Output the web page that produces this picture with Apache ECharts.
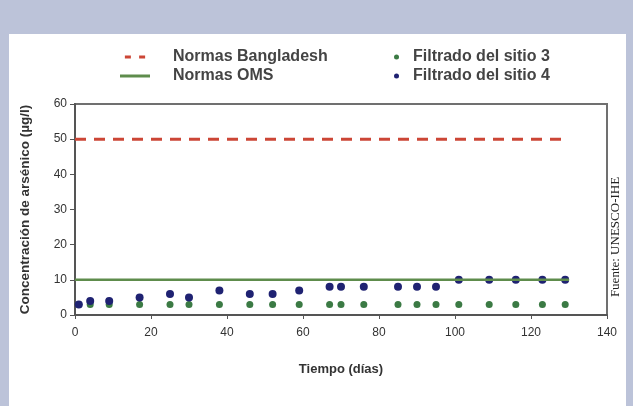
<!DOCTYPE html>
<html><head><meta charset="utf-8">
<script src="https://cdn.jsdelivr.net/npm/echarts@6/dist/echarts.min.js"></script>
<style>html,body{margin:0;padding:0;background:#bcc3d9;}#c{width:633px;height:406px;}</style>
</head><body><div id="c"></div>
<script>
// Data
const days = [1, 4, 9, 17, 25, 30, 38, 46, 52, 59, 67, 70, 76, 85, 90, 95, 101, 109, 116, 123, 129];
const site3 = [3, 3, 3, 3, 3, 3, 3, 3, 3, 3, 3, 3, 3, 3, 3, 3, 3, 3, 3, 3, 3];
const site4 = [3, 4, 4, 5, 6, 5, 7, 6, 6, 7, 8, 8, 8, 8, 8, 8, 10, 10, 10, 10, 10];
const normRange = [0, 130];
const bangladeshNorm = 50;
const omsNorm = 10;
const xTicks = [0, 20, 40, 60, 80, 100, 120, 140];
const yTicks = [0, 10, 20, 30, 40, 50, 60];

const chart = echarts.init(document.getElementById('c'));
const pts = (vals) => days.map((d, i) => [d, vals[i]]);
const normLine = (v) => normRange.map(d => [d, v]);
const font = 'Liberation Sans, Arial, sans-serif';
const red = '#cc4636', green = '#5e8c4c', dot3 = '#3b7a44', dot4 = '#1f2272';
chart.setOption({
  backgroundColor: '#bcc3d9',
  animation: false,
  graphic: [
    {type: 'rect', shape: {x: 9, y: 34, width: 617, height: 380}, style: {fill: '#ffffff'}, z: -10},
    {type: 'text', x: 616, y: 237, rotation: Math.PI / 2,
     style: {text: 'Fuente: UNESCO-IHE', font: '13px "Liberation Serif", "Times New Roman", serif', fill: '#222', align: 'center', verticalAlign: 'middle'}}
  ],
  grid: {left: 75, right: 26, top: 104, bottom: 91, show: true, borderColor: '#707070', borderWidth: 2, backgroundColor: 'transparent'},
  legend: [
    {data: [
        {name: 'Normas Bangladesh', icon: 'path://M0,0h8v4h-8z M19,0h8v4h-8z'},
        {name: 'Normas OMS', icon: 'path://M0,0h30v3h-30z'}
     ],
     orient: 'vertical', left: 120, top: 49, padding: 0, itemWidth: 30, itemHeight: 3, itemGap: 3,
     textStyle: {fontFamily: font, fontSize: 16, fontWeight: 'bold', color: '#444', padding: [0, 0, 0, 18]}},
    {data: [
        {name: 'Filtrado del sitio 3', icon: 'circle'},
        {name: 'Filtrado del sitio 4', icon: 'circle'}
     ],
     orient: 'vertical', left: 394, top: 49, padding: 0, itemWidth: 5, itemHeight: 5, itemGap: 3,
     textStyle: {fontFamily: font, fontSize: 16, fontWeight: 'bold', color: '#444', padding: [0, 0, 0, 9]}}
  ],
  xAxis: {
    type: 'value', min: 0, max: 140, interval: 20,
    name: 'Tiempo (días)', nameLocation: 'middle', nameGap: 48,
    nameTextStyle: {fontFamily: font, fontSize: 13, fontWeight: 'bold', color: '#333'},
    axisLine: {show: true, lineStyle: {color: '#555', width: 2}},
    axisTick: {show: true, length: 4, lineStyle: {color: '#555'}},
    axisLabel: {fontFamily: font, fontSize: 12, color: '#333', margin: 12, customValues: xTicks},
    splitLine: {show: false}
  },
  yAxis: {
    type: 'value', min: 0, max: 60, interval: 10,
    name: 'Concentración de arsénico (µg/l)', nameLocation: 'middle', nameGap: 43,
    nameTextStyle: {fontFamily: font, fontSize: 13.5, fontWeight: 'bold', color: '#333'},
    axisLine: {show: true, lineStyle: {color: '#555', width: 2}},
    axisTick: {show: true, length: 5, lineStyle: {color: '#555'}},
    axisLabel: {fontFamily: font, fontSize: 12, color: '#333', margin: 8, customValues: yTicks},
    splitLine: {show: false}
  },
  series: [
    {name: 'Normas Bangladesh', type: 'line', data: normLine(bangladeshNorm), symbol: 'none',
     lineStyle: {color: red, width: 3, type: [11, 8]}, itemStyle: {color: red}},
    {name: 'Normas OMS', type: 'line', data: normLine(omsNorm), symbol: 'none',
     lineStyle: {color: green, width: 2.5}, itemStyle: {color: green}},
    {name: 'Filtrado del sitio 3', type: 'scatter', data: pts(site3), symbolSize: 7,
     itemStyle: {color: dot3, opacity: 1}},
    {name: 'Filtrado del sitio 4', type: 'scatter', data: pts(site4), symbolSize: 8,
     itemStyle: {color: dot4, opacity: 1}}
  ]
});
</script></body></html>
